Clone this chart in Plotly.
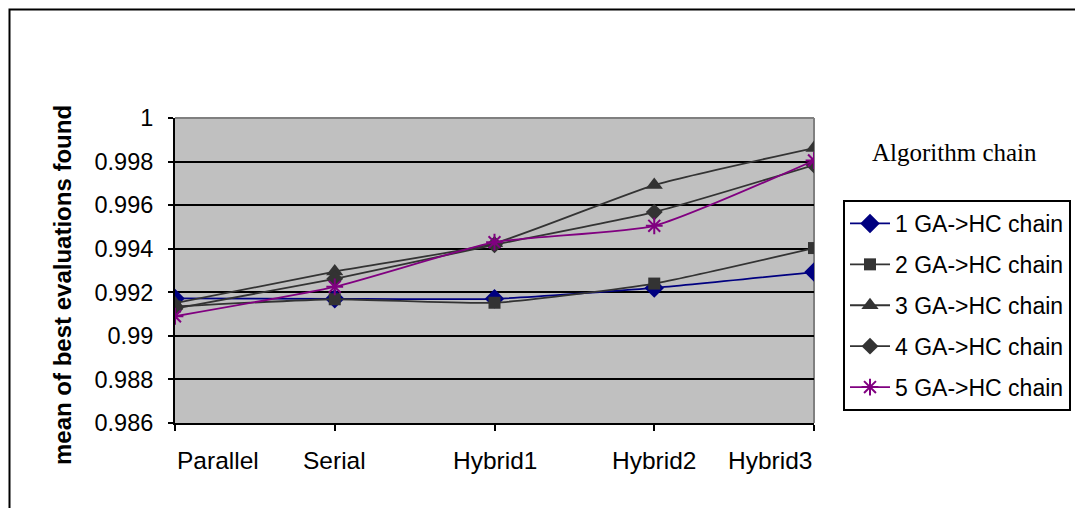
import plotly.graph_objects as go

categories = ["Parallel", "Serial", "Hybrid1", "Hybrid2", "Hybrid3"]
series_names = ["1 GA->HC chain", "2 GA->HC chain", "3 GA->HC chain",
                "4 GA->HC chain", "5 GA->HC chain"]
s1 = [0.99172, 0.99170, 0.99170, 0.99220, 0.99293]
s2 = [0.99135, 0.99168, 0.99152, 0.99240, 0.99403]
s3 = [0.99150, 0.99295, 0.99425, 0.99692, 0.99862]
s4 = [0.99125, 0.99262, 0.99418, 0.99568, 0.99784]
s5 = [0.99090, 0.99225, 0.99430, 0.99505, 0.99805]
y_ticks = [0.986, 0.988, 0.99, 0.992, 0.994, 0.996, 0.998, 1.0]
y_tick_text = ["0.986", "0.988", "0.99", "0.992", "0.994", "0.996", "0.998", "1"]
legend_title = "Algorithm chain"
y_title = "mean of best evaluations found"

styles = [
    dict(color="#000080", symbol="diamond", size=15, lw=0),
    dict(color="#333333", symbol="square", size=12, lw=0),
    dict(color="#333333", symbol="triangle-up", size=15, lw=0),
    dict(color="#333333", symbol="diamond", size=13, lw=0),
    dict(color="#800080", symbol="asterisk-open", size=14, lw=2),
]

fig = go.Figure()
xs = list(range(len(categories)))
for name, ys, st in zip(series_names, [s1, s2, s3, s4, s5], styles):
    fig.add_trace(go.Scatter(
        x=xs, y=ys, name=name, mode="lines+markers",
        legendgroup=name,
        line=dict(color=st["color"], width=1.8, shape="spline", smoothing=0.5),
        marker=dict(symbol=st["symbol"], size=st["size"], color=st["color"],
                    line=dict(color=st["color"], width=st["lw"])),
    ))

OFF = 8  # page offset of the figure inside the browser window
W, H = 1083, 508
L = 175 - OFF
T = 118 - OFF
R = W - (814 - OFF)
B = H - (423 - OFF)
pw, ph = W - L - R, H - T - B

def px(xpix):
    return (xpix - OFF - L) / pw

def py(ypix):
    return (H - B - (ypix - OFF)) / ph

font = "Liberation Sans, Arial, sans-serif"

fig.update_layout(
    width=W, height=H,
    margin=dict(l=L, r=R, t=T, b=B, autoexpand=False),
    paper_bgcolor="white",
    plot_bgcolor="#C0C0C0",
    showlegend=True,
    legend=dict(
        x=px(957), y=py(200), xanchor="center", yanchor="top",
        bordercolor="black", borderwidth=2, bgcolor="white",
        font=dict(family=font, size=23, color="black"),
        tracegroupgap=8, itemwidth=40,
    ),
    xaxis=dict(
        range=[0, 4], tickvals=xs, ticktext=[""] * len(xs),
        showgrid=False, zeroline=False,
        showline=True, linecolor="black", linewidth=2,
        ticks="outside", ticklen=6, tickwidth=2, tickcolor="black",
    ),
    yaxis=dict(
        range=[0.986, 1.0], tickvals=y_ticks, ticktext=y_tick_text,
        showgrid=True, gridcolor="black", gridwidth=1.6, zeroline=False,
        showline=True, linecolor="black", linewidth=2,
        ticks="outside", ticklen=5, tickwidth=2, tickcolor="black",
        ticklabelstandoff=10,
        tickfont=dict(family=font, size=23.5, color="black"),
    ),
)

# grey plot frame (top and right)
fig.add_shape(type="line", xref="paper", yref="paper", x0=0, x1=1, y0=1, y1=1,
              line=dict(color="#808080", width=2), layer="above")
fig.add_shape(type="line", xref="paper", yref="paper", x0=1, x1=1, y0=0, y1=1,
              line=dict(color="#808080", width=2), layer="below")

# outer chart border (extends beyond the visible area on right/bottom)
fig.add_shape(type="rect", xref="paper", yref="paper",
              x0=px(9.5), x1=px(1200), y0=py(600), y1=py(9.5),
              line=dict(color="black", width=2), fillcolor="rgba(0,0,0,0)",
              layer="above")

# category labels
anchors = ["left", "center", "center", "center", "right"]
for i, (cat, anc) in enumerate(zip(categories, anchors)):
    fig.add_annotation(x=i, y=py(460), xref="x", yref="paper", text=cat,
                       showarrow=False, xanchor=anc, yanchor="middle",
                       font=dict(family=font, size=24.5, color="black"))

# y axis title
fig.add_annotation(x=px(62), y=py(285), xref="paper", yref="paper",
                   text="<b>" + y_title + "</b>", textangle=-90,
                   showarrow=False, xanchor="center", yanchor="middle",
                   font=dict(family=font, size=24, color="black"))

# legend heading
fig.add_annotation(x=px(954), y=py(152), xref="paper", yref="paper",
                   text=legend_title, showarrow=False,
                   xanchor="center", yanchor="middle",
                   font=dict(family="Liberation Serif, Times New Roman, serif",
                             size=25, color="black"))

fig.write_html("out.html")
